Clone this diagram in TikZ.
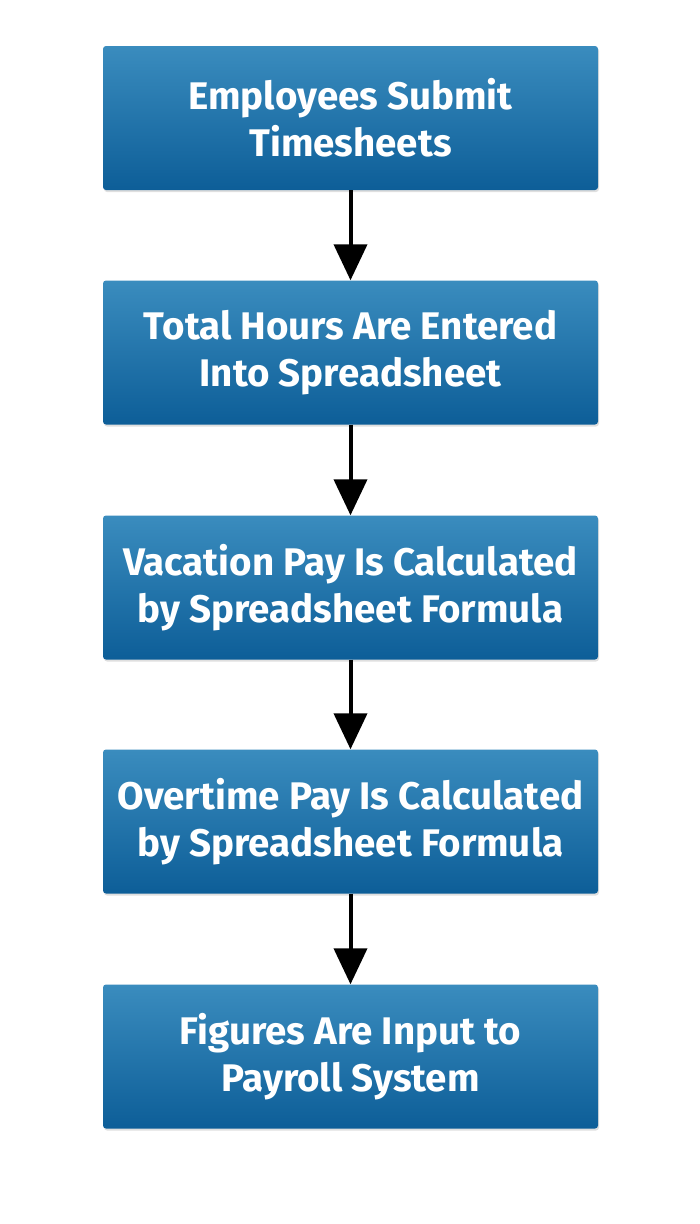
\documentclass[tikz,border=0pt]{standalone}
\usepackage{fontspec}
\setmainfont{Fira Sans}
\usetikzlibrary{arrows.meta,shadows}
\definecolor{boxtop}{HTML}{3A8CBE}
\definecolor{boxbot}{HTML}{0D5E98}
\tikzset{
  stepbox/.style={rectangle, rounded corners=3pt, minimum width=495pt, minimum height=144pt,
    top color=boxtop, bottom color=boxbot, draw=none, inner sep=0pt,
    text=white, align=center, font=\fontsize{38.5pt}{47pt}\selectfont\bfseries,
    drop shadow={opacity=0.25, shadow xshift=1pt, shadow yshift=-2pt}},
  flow/.style={line width=4pt, -{Triangle[width=33pt,length=36pt]}}
}
\begin{document}
\begin{tikzpicture}[x=1pt,y=1pt]
\useasboundingbox (0,0) rectangle (700,-1224);
\node[stepbox] (b1) at (350.5,-118) {Employees Submit\\Timesheets};
\node[stepbox] (b2) at (350.5,-352.5) {Total Hours Are Entered\\Into Spreadsheet};
\node[stepbox] (b3) at (350.5,-587.5) {Vacation Pay Is Calculated\\by Spreadsheet Formula};
\node[stepbox] (b4) at (350.5,-821.5) {Overtime Pay Is Calculated\\by Spreadsheet Formula};
\node[stepbox] (b5) at (350.5,-1056.5) {Figures Are Input to\\Payroll System};
\draw[flow] (b1) -- (b2);
\draw[flow] (b2) -- (b3);
\draw[flow] (b3) -- (b4);
\draw[flow] (b4) -- (b5);
\end{tikzpicture}
\end{document}
